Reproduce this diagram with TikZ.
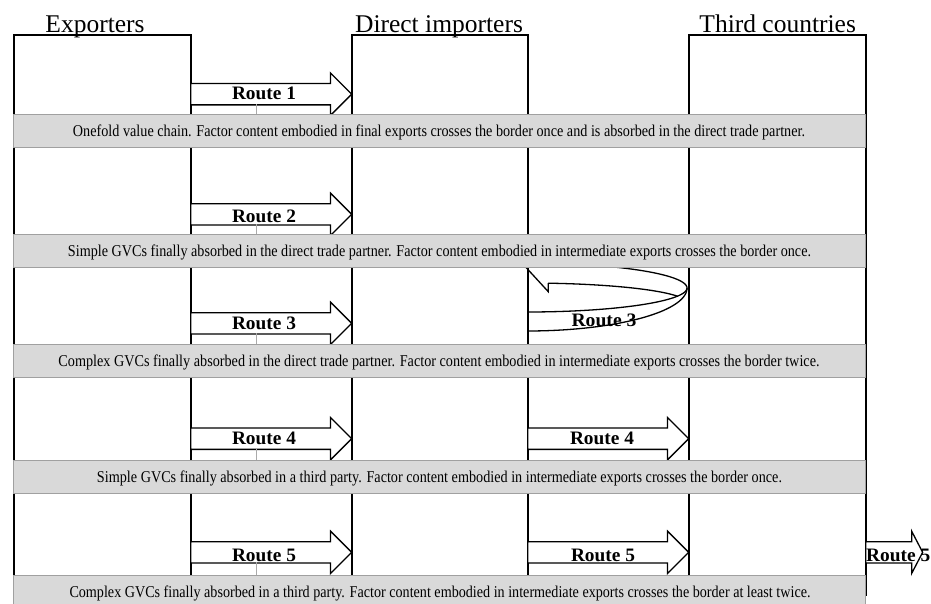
\documentclass[tikz,border=0pt]{standalone}
\usepackage{fontspec}
\setmainfont{Liberation Serif}
\usepackage{graphicx}
\usetikzlibrary{shapes.arrows}
\definecolor{bandfill}{RGB}{217,217,217}
\definecolor{bandline}{RGB}{160,160,160}
\definecolor{tickgray}{RGB}{170,170,170}
\newcommand{\fitw}[3]{\resizebox{#1pt}{\height}{\fontsize{#2}{#2}\selectfont #3}}
\begin{document}
\begin{tikzpicture}[x=1pt,y=-1pt,
  colbox/.style={draw=black,line width=1.6pt,inner sep=0,minimum height=560pt,anchor=north west},
  routearrow/.style={single arrow,draw=black,fill=white,line width=1.3pt,inner xsep=0pt,inner ysep=10pt,
     minimum height=161pt,minimum width=41pt,single arrow head extend=10.5pt,anchor=tail},
  band/.style={draw=bandline,fill=bandfill,line width=1pt,inner sep=0,minimum width=852pt,minimum height=32.5pt},
  bandtxt/.style={anchor=base,inner sep=0},
  lbl/.style={anchor=base,inner sep=0,font=\bfseries},
  hdr/.style={anchor=base,inner sep=0,font=\fontsize{25.5}{26}\selectfont},
  tickline/.style={draw=tickgray,line width=1pt},
  uturn/.style={draw=black,line width=1.3pt}]
\useasboundingbox (0,0) rectangle (931,603);

% column boxes
\node[colbox,minimum width=177pt] (exp) at (13,34) {};
\node[colbox,minimum width=176pt] (dir) at (351,34) {};
\node[colbox,minimum width=177pt] (thd) at (688,34) {};

% headers
\node[hdr] (hexp) at (95,32.3) {Exporters};
\node[hdr] (hdir) at (439,32.3) {Direct importers};
\node[hdr] (hthd) at (777.7,32.3) {Third countries};

% straight arrows
\node[routearrow] (a1) at (190,94.2) {};
\node[routearrow] (a2) at (190,214.3) {};
\node[routearrow] (a3) at (190,323.3) {};
\node[routearrow] (a4) at (190,438.7) {};
\node[routearrow] (m4) at (527,438.7) {};
\node[routearrow] (a5) at (190,552.3) {};
\node[routearrow] (m5) at (527,552.3) {};
\node[routearrow,minimum height=57pt,single arrow tip angle=125] (r5) at (865,552.3) {};

% U-turn arrow (Route 3, middle column)
\draw[uturn] plot[domain=90:0,samples=50] ({527+160*cos(\x)},{288+43*sin(\x)})
   -- plot[domain=0:-90,samples=50] ({527+160*cos(\x)},{288+25*sin(\x)});
\draw[uturn] plot[domain=90:0,samples=50] ({527+160*cos(\x)},{288+24*sin(\x)});
\draw[uturn] plot[domain=82.4:19.9,samples=40] ({527+160*cos(\x)},{303-20*sin(\x)});
\draw[uturn,line join=miter] (548.3,283.2) -- (548.3,291.7) -- (521,262);

% small grey ticks
\coordinate (k1) at (256,104.3);
\coordinate (k2) at (256,224.3);
\coordinate (k3) at (256,333.3);
\coordinate (k4) at (256,449);
\coordinate (k5) at (256,562.3);

% bands
\node[band] (b1) at (439,130.75) {};
\node[band] (b2) at (439,251) {};
\node[band] (b3) at (439,361) {};
\node[band] (b4) at (439,477) {};
\node[band,minimum height=34pt] (b5) at (439,592) {};

\draw[tickline] (k1) -- (k1 |- b1.north);
\draw[tickline] (k2) -- (k2 |- b2.north);
\draw[tickline] (k3) -- (k3 |- b3.north);
\draw[tickline] (k4) -- (k4 |- b4.north);
\draw[tickline] (k5) -- (k5 |- b5.north);

\node[bandtxt] (t1) at (439,136.2) {\fitw{732}{16.5}{Onefold value chain. Factor content embodied in final exports crosses the border once and is absorbed in the direct trade partner.}};
\node[bandtxt] (t2) at (439.5,256.5) {\fitw{743}{16.5}{Simple GVCs finally absorbed in the direct trade partner. Factor content embodied in intermediate exports crosses the border once.}};
\node[bandtxt] (t3) at (439,366.5) {\fitw{761}{16.5}{Complex GVCs finally absorbed in the direct trade partner. Factor content embodied in intermediate exports crosses the border twice.}};
\node[bandtxt] (t4) at (439.5,482.5) {\fitw{685}{16.5}{Simple GVCs finally absorbed in a third party. Factor content embodied in intermediate exports crosses the border once.}};
\node[bandtxt] (t5) at (440,597) {\fitw{741}{16.5}{Complex GVCs finally absorbed in a third party. Factor content embodied in intermediate exports crosses the border at least twice.}};

% route labels
\node[lbl] (l1) at (264,99.3) {\fitw{64}{19}{Route 1}};
\node[lbl] (l2) at (264,222.5) {\fitw{64}{19}{Route 2}};
\node[lbl] (l3) at (264,329.3) {\fitw{64}{19}{Route 3}};
\node[lbl] (l3m) at (604,326.3) {\fitw{65}{19}{Route 3}};
\node[lbl] (l4) at (264,444.5) {\fitw{64}{19}{Route 4}};
\node[lbl] (l4m) at (602,444.5) {\fitw{64}{19}{Route 4}};
\node[lbl] (l5) at (264,561.3) {\fitw{64}{19}{Route 5}};
\node[lbl] (l5m) at (603,561.3) {\fitw{64}{19}{Route 5}};
\node[lbl,anchor=base west] (l5r) at (866,561.3) {\fitw{64}{19}{Route 5}};
\end{tikzpicture}
\end{document}
